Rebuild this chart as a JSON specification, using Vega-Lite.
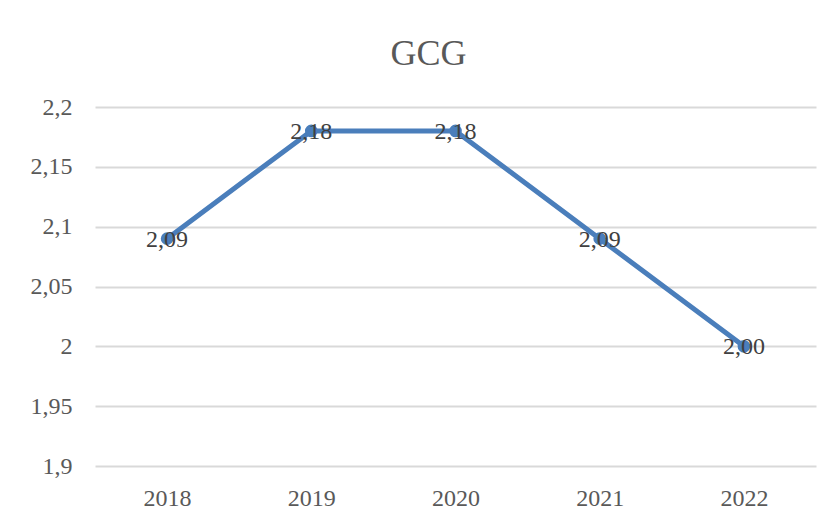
{
  "$schema": "https://vega.github.io/schema/vega-lite/v6.json",
  "autosize": "none",
  "width": 721,
  "height": 359,
  "padding": {"left": 95, "top": 107, "right": 20, "bottom": 54},
  "background": "white",
  "config": {
    "locale": {"number": {"decimal": ",", "thousands": ".", "grouping": [3], "currency": ["", " €"]}},
    "view": {"stroke": null},
    "font": "Liberation Serif"
  },
  "title": {
    "text": "GCG",
    "anchor": "middle",
    "frame": "group",
    "dx": -27,
    "offset": 22,
    "fontSize": 36,
    "font": "Liberation Serif",
    "fontWeight": "normal",
    "color": "#595959"
  },
  "data": {
    "values": [
      {"year": "2018", "value": 2.09},
      {"year": "2019", "value": 2.18},
      {"year": "2020", "value": 2.18},
      {"year": "2021", "value": 2.09},
      {"year": "2022", "value": 2.00}
    ]
  },
  "encoding": {
    "x": {
      "field": "year",
      "type": "ordinal",
      "scale": {"type": "point", "padding": 0.5},
      "axis": {
        "title": null,
        "labelAngle": 0,
        "ticks": false,
        "domain": false,
        "labelPadding": 20,
        "labelFontSize": 24,
        "labelColor": "#595959",
        "labelFont": "Liberation Serif"
      }
    },
    "y": {
      "field": "value",
      "type": "quantitative",
      "scale": {"domain": [1.9, 2.2], "zero": false, "nice": false},
      "axis": {
        "title": null,
        "values": [1.9, 1.95, 2.0, 2.05, 2.1, 2.15, 2.2],
        "format": "~r",
        "ticks": false,
        "domain": false,
        "labelPadding": 23,
        "labelFontSize": 24,
        "labelColor": "#595959",
        "labelFont": "Liberation Serif",
        "gridColor": "#d9d9d9",
        "gridWidth": 2
      }
    }
  },
  "layer": [
    {"mark": {"type": "line", "color": "#4a7ebb", "strokeWidth": 5}},
    {"mark": {"type": "point", "filled": true, "opacity": 1, "color": "#4a7ebb", "size": 160}},
    {
      "mark": {"type": "text", "fontSize": 24, "color": "#404040", "font": "Liberation Serif", "baseline": "middle", "dy": 1},
      "encoding": {"text": {"field": "value", "type": "quantitative", "format": ".2f"}}
    }
  ]
}
